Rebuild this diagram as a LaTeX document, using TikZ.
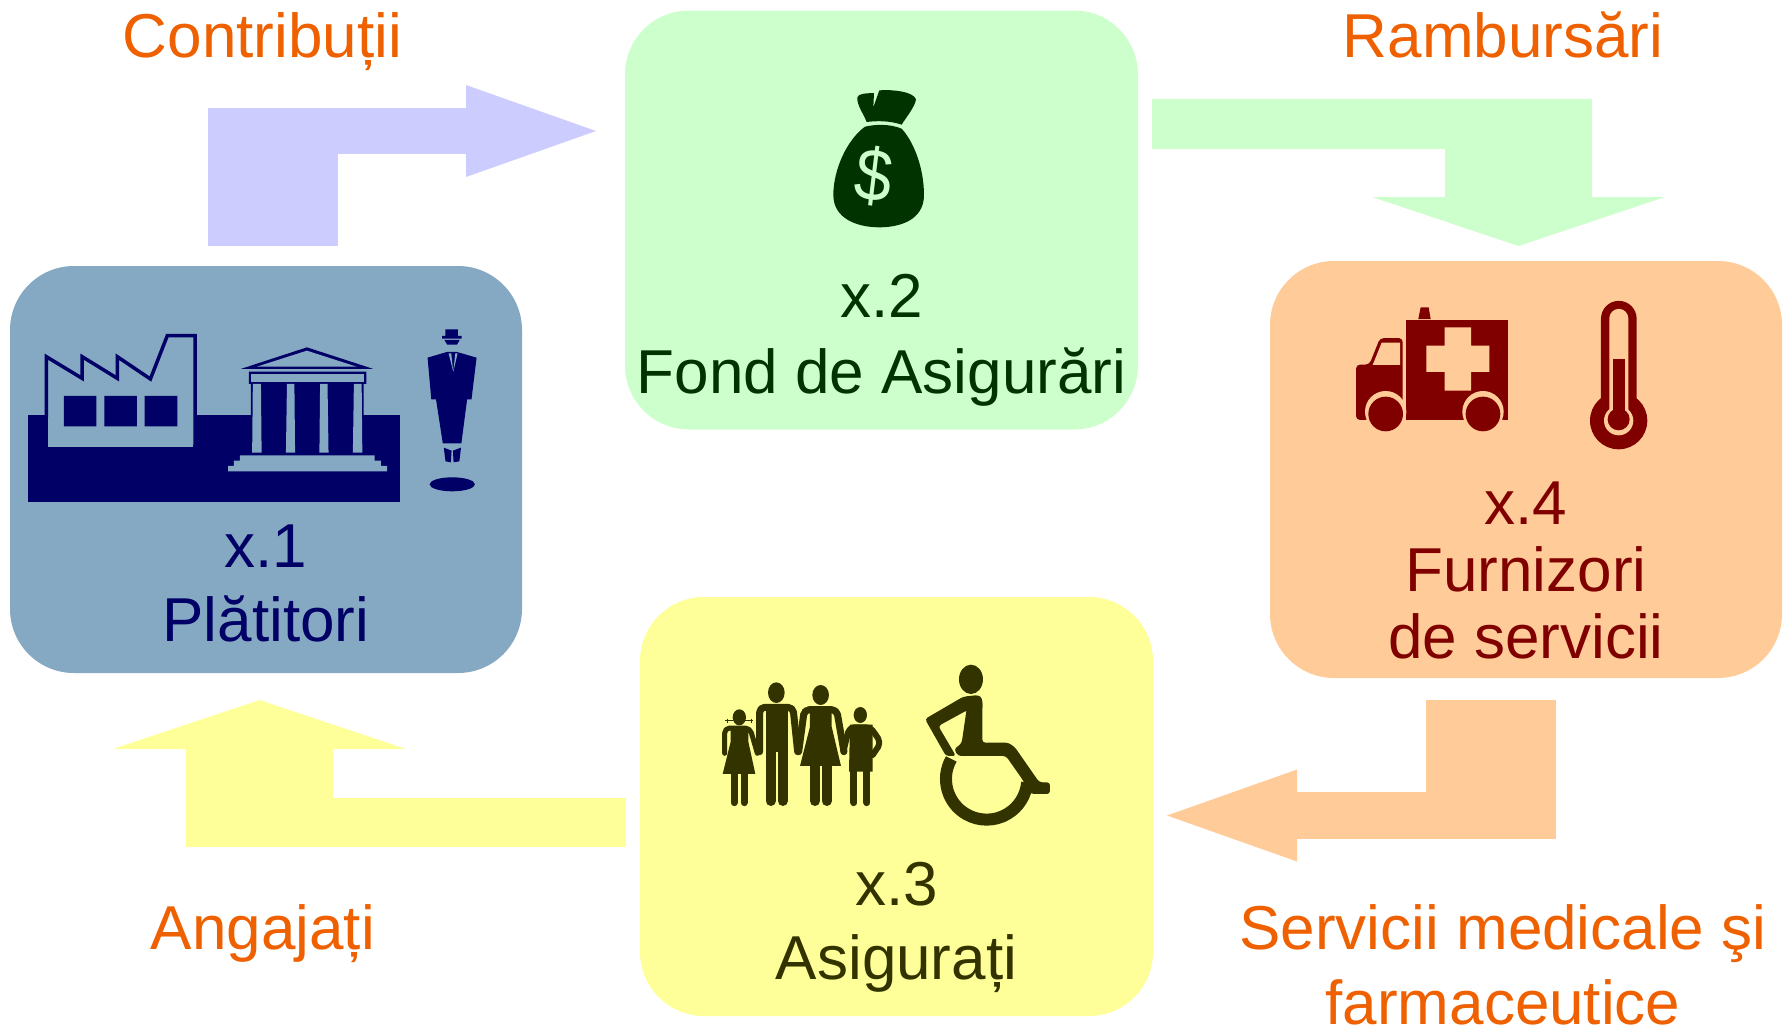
\documentclass[tikz,border=0pt]{standalone}
\usepackage{fontspec}
\setmainfont{Liberation Sans}
\usetikzlibrary{arrows.meta}

\definecolor{bluefill}{HTML}{85A9C2}
\definecolor{bluedark}{HTML}{000066}
\definecolor{lilacarrow}{HTML}{CCCCFF}
\definecolor{greenfill}{HTML}{CCFFCC}
\definecolor{greendark}{HTML}{003300}
\definecolor{yellowfill}{HTML}{FFFF99}
\definecolor{yellowdark}{HTML}{333300}
\definecolor{peachfill}{HTML}{FFCC99}
\definecolor{peachdark}{HTML}{800000}
\definecolor{labelorange}{HTML}{EE6000}

\tikzset{
    roundbox/.style={rectangle, rounded corners=64pt, minimum width=512pt, minimum height=410pt, inner sep=0pt},
    boxtext/.style={anchor=base, align=center, inner sep=0pt, font=\fontsize{62}{74}\selectfont},
    flowlabel/.style={anchor=base, align=center, inner sep=0pt, text=labelorange, font=\fontsize{62}{75}\selectfont},
    crop/.style={x=0.3333pt, y=-0.3333pt},
    limb/.style={line cap=round, line join=round, rounded corners=5pt}
}

\begin{document}
\begin{tikzpicture}[x=1pt, y=-1pt]
\useasboundingbox (0,0) rectangle (1788,1028);

% arrows
\coordinate (contribStart) at (272.5,246);
\coordinate (contribBend) at (272.5,108);
\coordinate (contribFrom) at (208,131);
\coordinate (contribEnd) at (596,131);
\coordinate (rambFrom) at (1152,124);
\coordinate (rambTo) at (1592,124);
\coordinate (rambBend) at (1518.5,99);
\coordinate (rambEnd) at (1518.5,246);
\coordinate (servStart) at (1491,700);
\coordinate (servBend) at (1491,839);
\coordinate (servFrom) at (1556,815.5);
\coordinate (servEnd) at (1167,815.5);
\coordinate (angFrom) at (626,822.5);
\coordinate (angTo) at (186,822.5);
\coordinate (angBend) at (259.5,847);
\coordinate (angEnd) at (259.5,700);

\draw[lilacarrow, line width=130pt] (contribStart) -- (contribBend);
\draw[lilacarrow, line width=46pt, -{Triangle[length=130pt, width=92pt, line width=0pt]}] (contribFrom) -- (contribEnd);
\draw[greenfill, line width=50pt] (rambFrom) -- (rambTo);
\draw[greenfill, line width=147pt, -{Triangle[length=49pt, width=293pt, line width=0pt]}] (rambBend) -- (rambEnd);
\draw[peachfill, line width=130pt] (servStart) -- (servBend);
\draw[peachfill, line width=47pt, -{Triangle[length=130pt, width=92pt, line width=0pt]}] (servFrom) -- (servEnd);
\draw[yellowfill, line width=49pt] (angFrom) -- (angTo);
\draw[yellowfill, line width=147pt, -{Triangle[length=49pt, width=293pt, line width=0pt]}] (angBend) -- (angEnd);

% boxes
\node[roundbox, fill=bluefill, minimum height=407pt] (platitori) at (266,469.5) {};
\node[roundbox, fill=greenfill, minimum width=513pt, minimum height=419pt] (fond) at (881.5,220) {};
\node[roundbox, fill=yellowfill, minimum width=513pt, minimum height=419pt] (asigurati) at (896.5,806.5) {};
\node[roundbox, fill=peachfill, minimum height=417pt] (furnizori) at (1526,469.5) {};

% texts
\node[boxtext, text=bluedark] (platitoriText) at (266,641) {x.1\\Plătitori};
\node[boxtext, text=greendark, font=\fontsize{62}{76}\selectfont] (fondText) at (881.5,393) {x.2\\Fond de Asigurări};
\node[boxtext, text=yellowdark] (asiguratiText) at (896.5,979) {x.3\\Asigurați};
\node[boxtext, text=peachdark, font=\fontsize{62}{67}\selectfont] (furnizoriText) at (1526,658) {x.4\\Furnizori\\de servicii};
\node[flowlabel] (contributii) at (262.5,57) {Contribuții};
\node[flowlabel] (rambursari) at (1503,57) {Rambursări};
\node[flowlabel] (angajati) at (263,949) {Angajați};
\node[flowlabel] (servicii) at (1503,1024) {Servicii medicale şi\\farmaceutice};

% factory and temple
\begin{scope}[shift={(0,260)}, x=0.338pt, y=-0.3333pt]
    \fill[bluedark] (83,466) rectangle (1184,725);
    \filldraw[bluedark, fill=bluefill, line width=3.5pt] (137,560) -- (137,290) -- (243,355) -- (243,290) -- (347,355) -- (347,290) -- (445,357) -- (495,227) -- (577,227) -- (577,560) -- cycle;
    \fill[bluefill] (142,470) rectangle (572,560);
    \fill[bluedark] (189,408) rectangle (285,499) (309,408) rectangle (405,499) (428,408) rectangle (525,499);
    % temple
    \fill[bluedark] (712,327) -- (908,262) -- (1105,327) -- cycle;
    \fill[bluefill] (760,320) -- (908,272) -- (1055,320) -- cycle;
    \fill[bluedark] (736,335) rectangle (1084,372) (742,372) rectangle (1076,470);
    \fill[bluefill] (743,342) rectangle (1078,366);
    \fill[bluefill] (748,372) -- (772,372) -- (774,578) -- (746,578) -- cycle;
    \fill[bluefill] (849,372) -- (871,372) -- (873,578) -- (846,578) -- cycle;
    \fill[bluefill] (947,372) -- (969,372) -- (972,578) -- (945,578) -- cycle;
    \fill[bluefill] (1047,372) -- (1070,372) -- (1072,578) -- (1044,578) -- cycle;
    \fill[bluefill] (710,586) rectangle (1108,603) (692,602) rectangle (1127,619) (675,618) rectangle (1145,634);
    % man
    \fill[bluedark] (1318,208) rectangle (1355,228) (1308,228) rectangle (1366,236);
    \fill[bluedark] (1315,240) -- (1360,240) -- (1352,254) -- (1323,254) -- cycle;
    \fill[bluedark] (1265,293) -- (1322,276) -- (1352,276) -- (1410,293) -- (1395,418) -- (1382,418) -- (1365,550) -- (1310,550) -- (1290,418) -- (1276,418) -- cycle;
    \fill[bluefill] (1327,280) -- (1335,280) -- (1341,335) -- cycle (1347,280) -- (1354,280) -- (1341,335) -- cycle;
    \fill[bluedark] (1313,563) -- (1336,572) -- (1334,607) -- (1318,604) -- cycle (1364,563) -- (1340,572) -- (1342,607) -- (1359,604) -- cycle;
    \fill[bluedark] (1338,673) ellipse[x radius=67, y radius=21];
\end{scope}

% money bag
\begin{scope}[shift={(800,70)}, crop]
    \fill[greendark] (172,82) .. controls (175,70) and (200,70) .. (222,69) -- (220,112) -- (238,61) .. controls (280,58) and (340,65) .. (348,88) .. controls (345,110) and (320,140) .. (305,164) .. controls (270,152) and (230,152) .. (200,156) .. controls (190,130) and (170,105) .. (172,82) -- cycle;
    \fill[greendark] (195,170) .. controls (230,162) and (270,162) .. (305,176) .. controls (345,220) and (372,300) .. (372,375) .. controls (372,450) and (300,472) .. (238,472) .. controls (170,472) and (100,445) .. (100,375) .. controls (100,300) and (140,210) .. (195,170) -- cycle;
    \node[text=greenfill, inner sep=0pt, rotate=-7, xscale=0.9, font=\fontsize{74}{74}\selectfont] (dollar) at (221,318) {\$};
\end{scope}

% ambulance
\begin{scope}[shift={(1330,290)}, crop]
    \fill[peachdark] (228,91) rectangle (534,390);
    \fill[peachdark] (265,87) -- (272,52) -- (296,52) -- (302,87) -- cycle;
    \fill[peachdark, rounded corners=4pt] (78,390) -- (78,224) -- (118,224) -- (150,144) -- (218,144) -- (218,390) -- cycle;
    \fill[peachfill] (128,225) -- (155,158) -- (210,158) -- (210,225) -- cycle;
    \fill[peachfill] (344,112) rectangle (423,302) (289,167) rectangle (478,246);
    \fill[peachfill] (167,365) circle[radius=62] (459,365) circle[radius=62];
    \fill[peachfill] (105,390) rectangle (228,430) (397,390) rectangle (521,430);
    \fill[peachdark] (167,372) circle[radius=52] (459,372) circle[radius=52];
    % thermometer
    \fill[peachdark] (866,392) circle[radius=86];
    \fill[peachdark] (813,392) -- (813,86) arc[start angle=180, end angle=360, radius=53.5] -- (920,392) -- cycle;
    \fill[peachfill] (838,392) -- (838,85) arc[start angle=180, end angle=360, radius=28.5] -- (895,392) -- cycle;
    \fill[peachfill] (866,392) circle[radius=44];
    \fill[peachdark] (848,208) rectangle (886,380);
    \fill[peachdark] (866,388) circle[radius=33];
\end{scope}

% family
\begin{scope}[shift={(700,650)}, crop, yellowdark]
    % girl
    \fill (118,202) ellipse[x radius=20, y radius=24];
    \draw[line width=1pt] (76,212) -- (100,212) (136,212) -- (160,212) (82,206) -- (82,218) (154,206) -- (154,218);
    \draw[limb, line width=5pt] (74,310) -- (74,234) -- (150,234) -- (172,310);
    \fill (92,232) -- (145,232) -- (145,275) -- (166,372) -- (68,372) -- (92,275) -- cycle;
    \draw[line width=7pt, line cap=round] (102,365) -- (102,458) (132,365) -- (132,458);
    % man
    \fill (229,128) ellipse[x radius=25, y radius=31];
    \draw[limb, line width=7pt] (179,305) -- (179,172) -- (279,172) -- (293,305);
    \fill (197,165) rectangle (263,305);
    \draw[line width=10pt, line cap=round] (212,295) -- (212,453) (248,295) -- (248,453);
    % woman
    \fill (362,135) ellipse[x radius=25, y radius=30];
    \draw[limb, line width=7pt] (296,305) -- (313,179) -- (410,179) -- (432,305);
    \fill (330,172) -- (395,172) -- (395,230) -- (423,348) -- (300,348) -- (330,230) -- cycle;
    \draw[line width=10pt, line cap=round] (345,340) -- (345,453) (380,340) -- (380,453);
    % boy
    \fill (481,195) ellipse[x radius=20, y radius=24];
    \draw[limb, line width=6pt] (430,305) -- (448,232) -- (512,232) -- (543,278) -- (518,315);
    \fill (450,224) -- (518,224) -- (518,365) -- (447,365) -- cycle;
    \draw[line width=7pt, line cap=round] (462,360) -- (462,458) (501,360) -- (501,458);
    % wheelchair
    \fill (813,88) ellipse[x radius=36, y radius=44];
    \fill[rounded corners=3pt] (835,135) -- (790,140) -- (675,207) -- (738,318) -- (768,318) -- (715,228) -- (801,181) -- (847,181) -- (847,145) -- cycle;
    \fill[rounded corners=3pt] (801,170) -- (847,150) -- (847,278) -- (925,278) -- (945,292) -- (1018,397) -- (1050,397) -- (1050,432) -- (993,432) -- (965,385) -- (918,318) -- (775,318) -- (762,298) -- (785,280) -- cycle;
    \draw[line width=12pt] (753.8,326.9) arc[start angle=209.5, end angle=5, radius=122];
\end{scope}

\end{tikzpicture}
\end{document}
